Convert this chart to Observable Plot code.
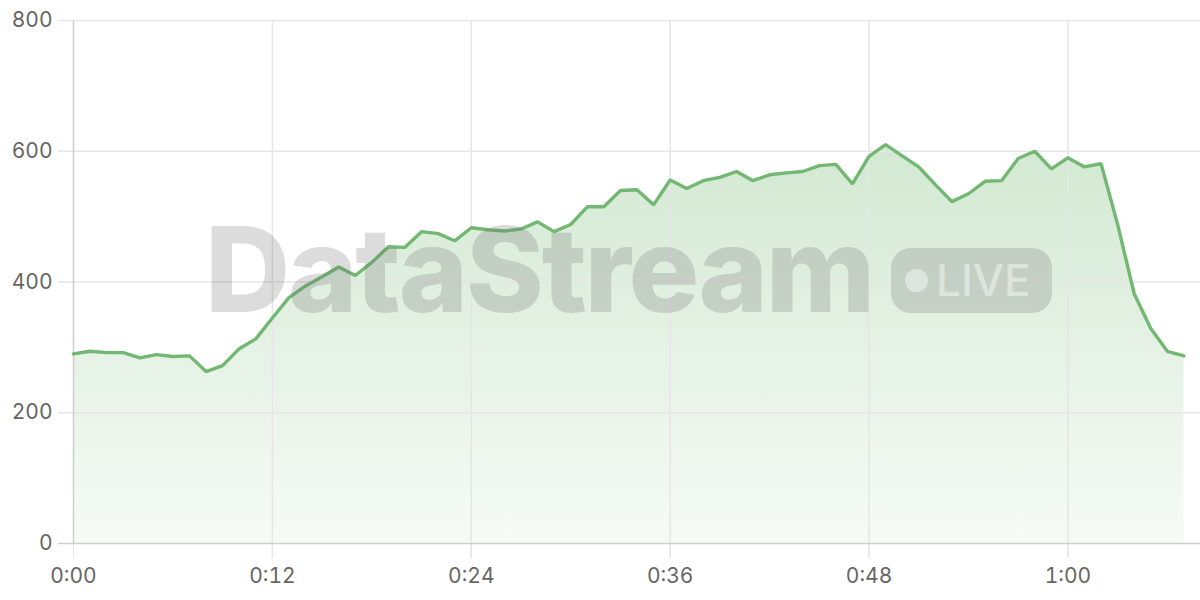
<!DOCTYPE html>
<html>
<head>
<meta charset="utf-8">
<script src="https://cdn.jsdelivr.net/npm/d3@7"></script>
<script src="https://cdn.jsdelivr.net/npm/@observablehq/plot@0.6"></script>
<style>
  html, body { margin: 0; padding: 0; background: #fff; }
  #wrap { position: relative; width: 1200px; height: 600px; font-family: Inter, "Noto Sans", sans-serif; }
  #wm { position: absolute; left: 0; top: 0; width: 1200px; height: 600px; pointer-events: none; }
  #wm .name { position: absolute; left: 205px; top: 199px; font-size: 118px; font-weight: 800; letter-spacing: -2.2px; color: rgba(110,110,110,0.24); line-height: 140px; white-space: nowrap; }
  #wm .badge { position: absolute; left: 891px; top: 248px; width: 161px; height: 65px; border-radius: 20px; background: rgba(110,110,110,0.24); }
  #wm .dot { position: absolute; left: 14px; top: 21px; width: 23px; height: 23px; border-radius: 50%; background: rgba(255,255,255,0.45); }
  #wm .live { position: absolute; left: 45px; top: 0; line-height: 65px; font-size: 44px; font-weight: 500; color: rgba(255,255,255,0.45); }
</style>
</head>
<body>
<div id="wrap">
  <div id="chart"></div>
  <div id="wm"><div class="name">DataStream</div><div class="badge"><div class="dot"></div><div class="live">LIVE</div></div></div>
</div>
<script>
// minutes since start
const minutes = d3.range(0, 68);
const values = [
  290, 294, 292, 292, 284, 289, 286, 287, 263, 272,
  298, 313, 345, 376, 394, 408, 423, 410, 430, 454,
  453, 477, 474, 463, 483, 480, 478, 481, 492, 477,
  488, 515, 515, 540, 541, 518, 556, 543, 555, 560,
  569, 555, 564, 567, 569, 578, 580, 550, 592, 610,
  593, 576, 549, 523, 535, 554, 555, 589, 600, 573,
  590, 576, 581, 488, 382, 329, 294, 287
];
const xTicks = [0, 12, 24, 36, 48, 60];
const yTicks = [0, 200, 400, 600, 800];

const data = minutes.map((m, i) => ({m, v: values[i]}));
const fmt = m => `${Math.floor(m / 60)}:${String(m % 60).padStart(2, "0")}`;

const defs = () => {
  const ns = "http://www.w3.org/2000/svg";
  const d = document.createElementNS(ns, "defs");
  const g = document.createElementNS(ns, "linearGradient");
  g.setAttribute("id", "areaGrad");
  g.setAttribute("x1", "0"); g.setAttribute("y1", "0");
  g.setAttribute("x2", "0"); g.setAttribute("y2", "1");
  [["0", 0.32], ["1", 0.06]].forEach(([o, a]) => {
    const s = document.createElementNS(ns, "stop");
    s.setAttribute("offset", o);
    s.setAttribute("stop-color", "#74b974");
    s.setAttribute("stop-opacity", a);
    g.appendChild(s);
  });
  d.appendChild(g);
  return d;
};

const chart = Plot.plot({
  width: 1200,
  height: 600,
  marginLeft: 73,
  marginRight: 0,
  marginTop: 20,
  marginBottom: 57,
  style: { fontFamily: "Inter, 'Noto Sans', sans-serif", fontSize: "21px", color: "#666", background: "#fff" },
  x: { domain: [0, 68] },
  y: { domain: [0, 800] },
  marks: [
    defs,
    Plot.areaY(data, { x: "m", y: "v", fill: "url(#areaGrad)" }),
    Plot.gridY(yTicks.filter(t => t > 0), { stroke: "#e6e6e6", strokeOpacity: 1, strokeWidth: 1.5, insetLeft: -15 }),
    Plot.gridX(xTicks.filter(t => t > 0), { stroke: "#e6e6e6", strokeOpacity: 1, strokeWidth: 1.5, insetBottom: -15 }),
    Plot.axisY(yTicks, { tickSize: 15, tickPadding: 6, stroke: "#e6e6e6", fill: "#666", label: null, fontSize: 21 }),
    Plot.axisX(xTicks, { tickSize: 15, tickPadding: 10, stroke: "#e6e6e6", fill: "#666", label: null, tickFormat: fmt, fontSize: 21 }),
    Plot.ruleX([0], { y1: 0, y2: 800, stroke: "#cfcfcf", strokeWidth: 1.5 }),
    Plot.ruleY([0], { stroke: "#cfcfcf", strokeWidth: 1.5, insetLeft: -15 }),
    Plot.lineY(data, { x: "m", y: "v", stroke: "#72b872", strokeWidth: 3.4, strokeLinejoin: "miter" })
  ]
});
document.getElementById("chart").appendChild(chart);
</script>
</body>
</html>
